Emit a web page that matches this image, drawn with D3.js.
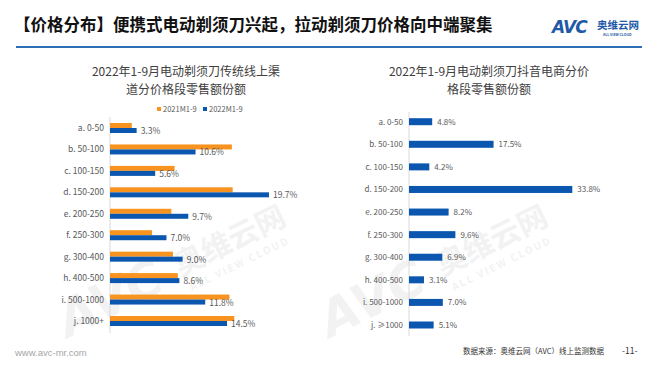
<!DOCTYPE html>
<html>
<head>
<meta charset="utf-8">
<script src="https://cdn.jsdelivr.net/npm/d3@7"></script>
<style>
  body { margin: 0; background: #fff; }
  svg { display: block; font-family: "Noto Sans CJK SC", "Noto Sans", sans-serif; }
</style>
</head>
<body>
<svg width="660" height="372"></svg>
<script>
// price bands and shares (%)
var leftCats = ["a. 0-50", "b. 50-100", "c. 100-150", "d. 150-200", "e. 200-250",
  "f. 250-300", "g. 300-400", "h. 400-500", "i. 500-1000", "j. 1000+"];
var share2021 = [2.7, 15.1, 8.0, 15.2, 7.6, 5.2, 7.8, 8.4, 14.8, 15.4];
var share2022 = [3.3, 10.6, 5.6, 19.7, 9.7, 7.0, 9.0, 8.6, 11.8, 14.5];
var seriesNames = ["2021M1-9", "2022M1-9"];

var rightCats = ["a. 0-50", "b. 50-100", "c. 100-150", "d. 150-200", "e. 200-250",
  "f. 250-300", "g. 300-400", "h. 400-500", "i. 500-1000", "j. \u22651000"];
var douyinShare = [4.8, 17.5, 4.2, 33.8, 8.2, 9.6, 6.9, 3.1, 7.0, 5.1];

var orange = "#F7931E", blue = "#0B57B0", grey = "#595959";

var svg = d3.select("svg");

// faint watermarks behind the charts
var wm = svg.append("g").attr("fill", "#c8c8c8").attr("opacity", 0.22);
[[68, 338], [330, 338]].forEach(function(p) {
  var g = wm.append("g").attr("transform", "translate(" + p[0] + "," + p[1] + ") rotate(-26)");
  g.append("text").attr("font-size", 50).attr("font-weight", "bold")
    .attr("font-style", "italic").attr("font-family", "DejaVu Sans").text("AVC");
  g.append("text").attr("x", 128).attr("y", -6).attr("font-size", 30)
    .attr("font-weight", "bold").text("奥维云网");
  g.append("text").attr("x", 132).attr("y", 12).attr("font-size", 10)
    .attr("font-weight", "bold").attr("letter-spacing", 2).text("ALL VIEW CLOUD");
});

// header
svg.append("text").attr("x", 14).attr("y", 31)
  .attr("font-size", 16.5).attr("font-weight", "bold").attr("fill", "#111")
  .text("【价格分布】便携式电动剃须刀兴起，拉动剃须刀价格向中端聚集");
svg.append("line").attr("x1", 16).attr("x2", 642).attr("y1", 47).attr("y2", 47)
  .attr("stroke", "#2E6DB4").attr("stroke-width", 2);

var logo = svg.append("g").attr("fill", "#1F5AA6");
logo.append("text").attr("x", 552).attr("y", 33).attr("font-size", 17)
  .attr("font-weight", "bold").attr("font-family", "DejaVu Sans").attr("font-style", "italic")
  .attr("letter-spacing", -1).text("AVC");
logo.append("text").attr("x", 597).attr("y", 29).attr("font-size", 10.5)
  .attr("font-weight", "bold").text("奥维云网");
logo.append("text").attr("x", 603).attr("y", 36).attr("font-size", 3.5)
  .attr("font-weight", "bold").text("ALL VIEW CLOUD");

// footer
svg.append("text").attr("x", 15).attr("y", 356).attr("font-size", 9.5)
  .attr("fill", "#a6a6a6").attr("font-family", "Liberation Sans").text("www.avc-mr.com");
svg.append("text").attr("x", 604).attr("y", 354).attr("text-anchor", "end")
  .attr("font-size", 7.5).attr("fill", "#333").text("数据来源：奥维云网（AVC）线上监测数据");
svg.append("text").attr("x", 622).attr("y", 354).attr("font-size", 8.5)
  .attr("fill", "#333").text("-11-");

function title(cx, lines) {
  svg.append("g").selectAll("text").data(lines).enter().append("text")
    .attr("x", cx).attr("y", function(d, i) { return 76 + i * 18; })
    .attr("text-anchor", "middle").attr("font-size", 12).attr("fill", "#404040")
    .text(function(d) { return d; });
}

function fmt(v) { return v.toFixed(1) + "%"; }

// ---------- left chart: two series ----------
title(186, ["2022年1-9月电动剃须刀传统线上渠", "道分价格段零售额份额"]);

var lx = d3.scaleLinear().domain([0, 20]).range([110, 271.4]);
var ly = d3.scalePoint().domain(leftCats).range([128, 321]);

var legend = svg.append("g").selectAll("g").data(seriesNames).enter().append("g")
  .attr("transform", function(d, i) { return "translate(" + (157 + i * 46) + ",109)"; });
legend.append("rect").attr("y", -2).attr("width", 4).attr("height", 4)
  .attr("fill", function(d, i) { return i ? blue : orange; });
legend.append("text").attr("x", 6).attr("y", 3).attr("font-size", 7.5).attr("fill", grey)
  .text(function(d) { return d; });

svg.append("line").attr("x1", lx(0)).attr("x2", lx(0)).attr("y1", 117).attr("y2", 333)
  .attr("stroke", "#d9d9d9");

var lrows = svg.append("g").selectAll("g").data(leftCats).enter().append("g");
lrows.append("rect").attr("x", lx(0)).attr("y", function(d) { return ly(d) - 5; })
  .attr("width", function(d, i) { return lx(share2021[i]) - lx(0); }).attr("height", 5)
  .attr("fill", orange);
lrows.append("rect").attr("x", lx(0)).attr("y", function(d) { return ly(d); })
  .attr("width", function(d, i) { return lx(share2022[i]) - lx(0); }).attr("height", 5)
  .attr("fill", blue);
lrows.append("text").attr("x", 104).attr("y", function(d) { return ly(d) + 3; })
  .attr("text-anchor", "end").attr("font-size", 8.5).attr("fill", grey)
  .text(function(d) { return d; });
lrows.append("text").attr("x", function(d, i) { return lx(share2022[i]) + 4; })
  .attr("y", function(d) { return ly(d) + 6; })
  .attr("font-size", 8.5).attr("fill", grey)
  .text(function(d, i) { return fmt(share2022[i]); });

// ---------- right chart: douyin ----------
title(489, ["2022年1-9月电动剃须刀抖音电商分价", "格段零售额份额"]);

var rx = d3.scaleLinear().domain([0, 33.8]).range([409, 572.3]);
var ry = d3.scalePoint().domain(rightCats).range([121.7, 325]);

svg.append("line").attr("x1", rx(0)).attr("x2", rx(0)).attr("y1", 112).attr("y2", 336)
  .attr("stroke", "#d9d9d9");

var rrows = svg.append("g").selectAll("g").data(rightCats).enter().append("g");
rrows.append("rect").attr("x", rx(0)).attr("y", function(d) { return ry(d) - 3.5; })
  .attr("width", function(d, i) { return rx(douyinShare[i]) - rx(0); }).attr("height", 7)
  .attr("fill", blue);
rrows.append("text").attr("x", 403).attr("y", function(d) { return ry(d) + 3; })
  .attr("text-anchor", "end").attr("font-size", 8).attr("fill", grey)
  .text(function(d) { return d; });
rrows.append("text").attr("x", function(d, i) { return rx(douyinShare[i]) + 5; })
  .attr("y", function(d) { return ry(d) + 3; })
  .attr("font-size", 8).attr("fill", grey)
  .text(function(d, i) { return fmt(douyinShare[i]); });
</script>
</body>
</html>
